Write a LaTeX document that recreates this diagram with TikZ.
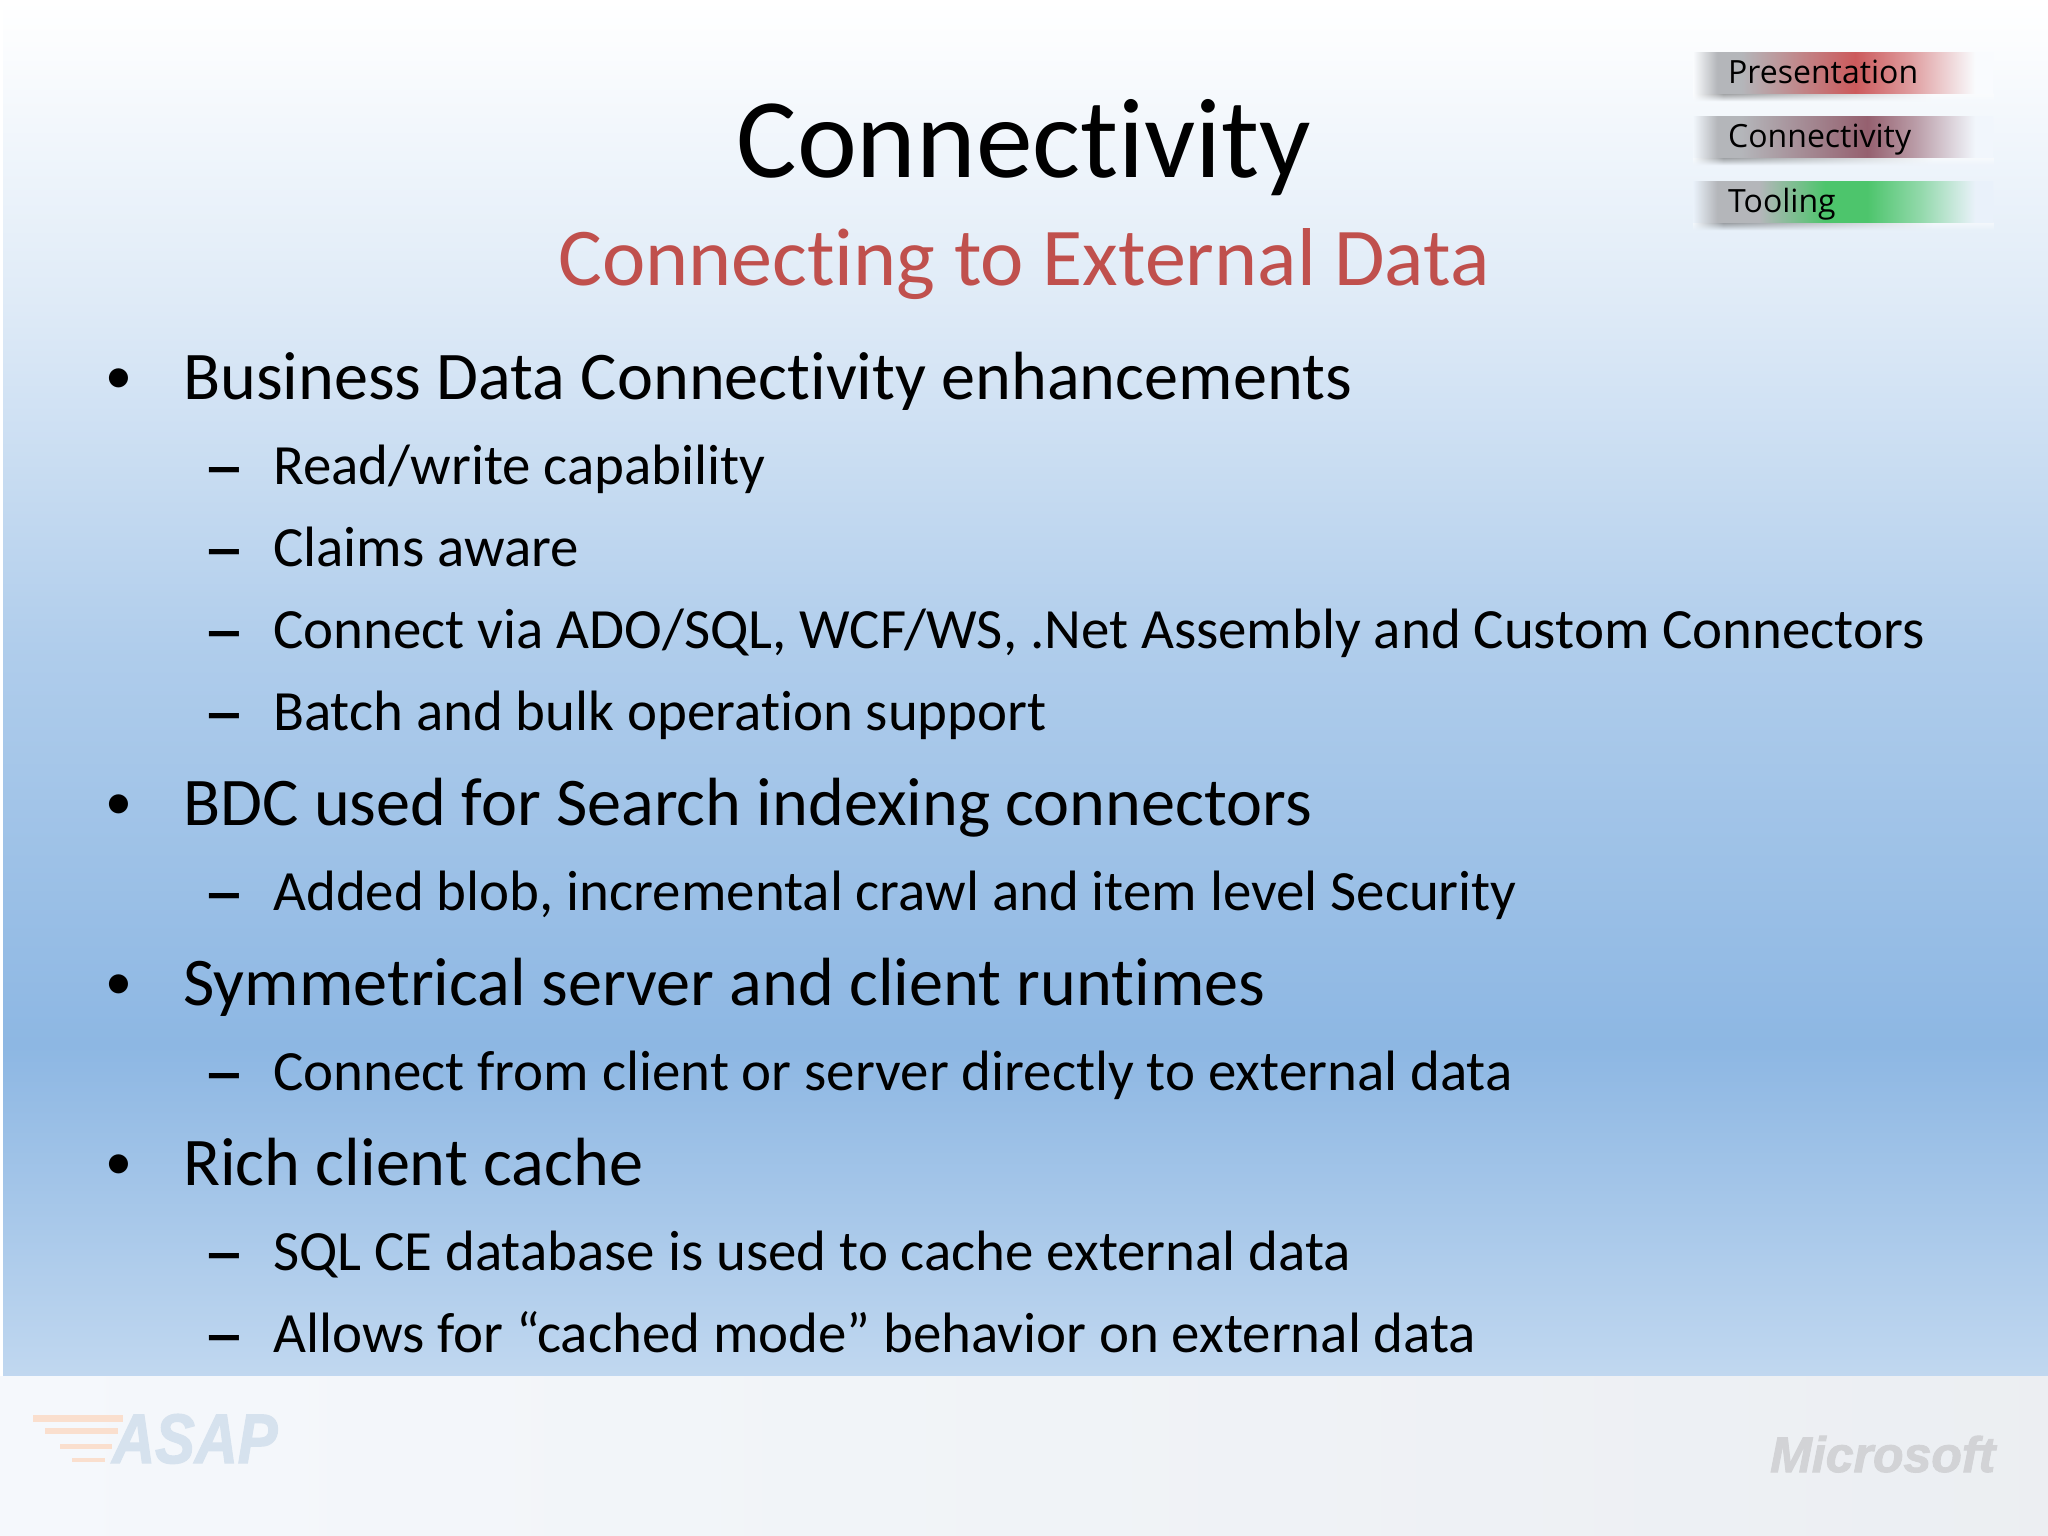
\documentclass[tikz,border=0pt]{standalone}
\usepackage{fontspec}
\setmainfont[Ligatures=NoCommon]{Carlito}
\newfontfamily\logofont[BoldItalicFeatures={FakeBold=2}]{Liberation Sans}
\newfontfamily\tabfont{Open Sans}
\usetikzlibrary{fadings}
\definecolor{subred}{HTML}{C0504D}
\definecolor{tabbg}{HTML}{F5F8FC}
\definecolor{tabgray}{HTML}{B4B6BA}
\definecolor{slideblue}{HTML}{8DB7E3}
\definecolor{tabred}{HTML}{CC5A5C}
\definecolor{tabplum}{HTML}{95606F}
\definecolor{tabgreen}{HTML}{4DC56C}
\definecolor{asapblue}{HTML}{D6E2EE}
\definecolor{asaporange}{HTML}{FADFCE}
\definecolor{msgray}{HTML}{D2D3D6}
\colorlet{presbg}{slideblue!5!white}
\colorlet{connbg}{slideblue!12!white}
\colorlet{toolbg}{slideblue!19!white}
% only the inner 25bp to 75bp of a shading shows on the path
\pgfdeclareverticalshading{slidebg}{100bp}{color(0bp)=(slideblue!55!white); color(25bp)=(slideblue!55!white); color(37bp)=(slideblue); color(51.3bp)=(slideblue!70!white); color(64.1bp)=(slideblue!28!white); color(73.5bp)=(slideblue!3!white); color(75bp)=(white); color(100bp)=(white)}
\pgfdeclarehorizontalshading{footbg}{100bp}{color(0bp)=(tabbg); color(25bp)=(tabbg); color(75bp)=(tabbg!92!gray); color(100bp)=(tabbg!92!gray)}
\pgfdeclarehorizontalshading{redbar}{100bp}{color(0bp)=(presbg); color(25bp)=(presbg); color(29bp)=(tabgray); color(33bp)=(tabgray); color(52bp)=(tabred); color(61bp)=(tabred!60!presbg); color(72bp)=(presbg); color(100bp)=(presbg)}
\pgfdeclarehorizontalshading{plumbar}{100bp}{color(0bp)=(connbg); color(25bp)=(connbg); color(29bp)=(tabgray); color(33bp)=(tabgray); color(54bp)=(tabplum); color(62bp)=(tabplum!60!connbg); color(72bp)=(connbg); color(100bp)=(connbg)}
\pgfdeclarehorizontalshading{greenbar}{100bp}{color(0bp)=(toolbg); color(25bp)=(toolbg); color(29bp)=(tabgray); color(36bp)=(tabgray); color(47bp)=(tabgreen); color(54bp)=(tabgreen); color(63bp)=(tabgreen!55!toolbg); color(72bp)=(toolbg); color(100bp)=(toolbg)}
\pgfdeclarehorizontalshading{shadowbar}{100bp}{color(0bp)=(white); color(25bp)=(white); color(30bp)=(black!70); color(50bp)=(black!30); color(65bp)=(white); color(100bp)=(white)}
\tikzset{
  x=1pt, y=-1pt,
  heading/.style={anchor=base, inner sep=0pt, font=\fontsize{113.5}{136}\selectfont},
  subheading/.style={anchor=base, inner sep=0pt, text=subred, font=\fontsize{82.1}{98}\selectfont},
  topitem/.style={anchor=base west, inner sep=0pt, font=\fontsize{68.2}{82}\selectfont},
  topdot/.style={anchor=base west, inner sep=0pt, font=\fontsize{54}{65}\selectfont},
  subitem/.style={anchor=base west, inner sep=0pt, font=\fontsize{56.9}{68}\selectfont},
  subdash/.style={anchor=base west, inner sep=0pt, font=\fontsize{84}{100}\selectfont},
  tablabel/.style={anchor=base west, inner sep=0pt, font=\tabfont\fontsize{32}{38}\selectfont},
  tabbar/.style={minimum width=300pt, minimum height=41pt, inner sep=0pt, anchor=north west},
  tabshadow/.style={minimum width=300pt, minimum height=8pt, inner sep=0pt, anchor=north west, opacity=.55, shading=shadowbar, path fading=south},
  logostripe/.style={color=asaporange},
}
\begin{document}
\begin{tikzpicture}
  % slide background
  \useasboundingbox (0,0) rectangle (2048,1536);
  \fill[white] (0,0) rectangle (2048,1536);
  \shade[shading=slidebg] (3,0) rectangle (2048,1376);
  \shade[shading=footbg] (0,1376) rectangle (2048,1536);
  % tabs
  \node[tabshadow] (presshadow) at (1693,93) {};
  \node[tabshadow] (connshadow) at (1693,157) {};
  \node[tabshadow] (toolshadow) at (1693,222) {};
  \node[tabbar, shading=redbar] (presbar) at (1693,52) {};
  \node[tabbar, shading=plumbar] (connbar) at (1693,116) {};
  \node[tabbar, shading=greenbar] (toolbar) at (1693,181) {};
  \node[tablabel] (preslabel) at (1728,84) {Presentation};
  \node[tablabel] (connlabel) at (1728,148) {Connectivity};
  \node[tablabel] (toollabel) at (1728,212) {Tooling};
  % titles
  \node[heading] (title) at (1024,178) {Connectivity};
  \node[subheading] (subtitle) at (1024,285) {Connecting to External Data};
  % bullets
  \node[topdot] (bdcdot) at (105,393) {•};
  \node[topitem] (bdc) at (183,399.5) {Business Data Connectivity enhancements};
  \node[subdash] (readdash) at (203,493) {–};
  \node[subitem] (read) at (273,484) {Read/write capability};
  \node[subdash] (claimsdash) at (203,575) {–};
  \node[subitem] (claims) at (273,566) {Claims aware};
  \node[subdash] (viadash) at (203,657) {–};
  \node[subitem] (via) at (273,648) {Connect via ADO/SQL, WCF/WS, .Net Assembly and Custom Connectors};
  \node[subdash] (batchdash) at (203,739) {–};
  \node[subitem] (batch) at (273,730) {Batch and bulk operation support};
  \node[topdot] (searchdot) at (105,819) {•};
  \node[topitem] (search) at (183,825) {BDC used for Search indexing connectors};
  \node[subdash] (blobdash) at (203,919) {–};
  \node[subitem] (blob) at (273,910) {Added blob, incremental crawl and item level Security};
  \node[topdot] (symdot) at (105,999) {•};
  \node[topitem] (sym) at (183,1005.5) {Symmetrical server and client runtimes};
  \node[subdash] (directdash) at (203,1099) {–};
  \node[subitem] (direct) at (273,1090) {Connect from client or server directly to external data};
  \node[topdot] (richdot) at (105,1179) {•};
  \node[topitem] (rich) at (183,1185.5) {Rich client cache};
  \node[subdash] (sqldash) at (203,1279) {–};
  \node[subitem] (sql) at (273,1270.5) {SQL CE database is used to cache external data};
  \node[subdash] (cacheddash) at (203,1361) {–};
  \node[subitem] (cached) at (273,1352.5) {Allows for “cached mode” behavior on external data};
  % footer logos
  \draw[logostripe, line width=7pt] (33,1418) -- (123,1418);
  \draw[logostripe, line width=6pt] (45,1431) -- (118,1431);
  \draw[logostripe, line width=5pt] (60,1446) -- (112,1446);
  \draw[logostripe, line width=4pt] (72,1460) -- (105,1460);
  \node[anchor=base west, inner sep=0pt, xscale=.85, text=asapblue, font=\logofont\bfseries\itshape\fontsize{70}{84}\selectfont] (asap) at (112,1463) {ASAP};
  \node[anchor=base west, inner sep=0pt, text=msgray, font=\logofont\bfseries\itshape\fontsize{50}{60}\selectfont] (microsoft) at (1770,1472) {Microsoft};
\end{tikzpicture}
\end{document}
